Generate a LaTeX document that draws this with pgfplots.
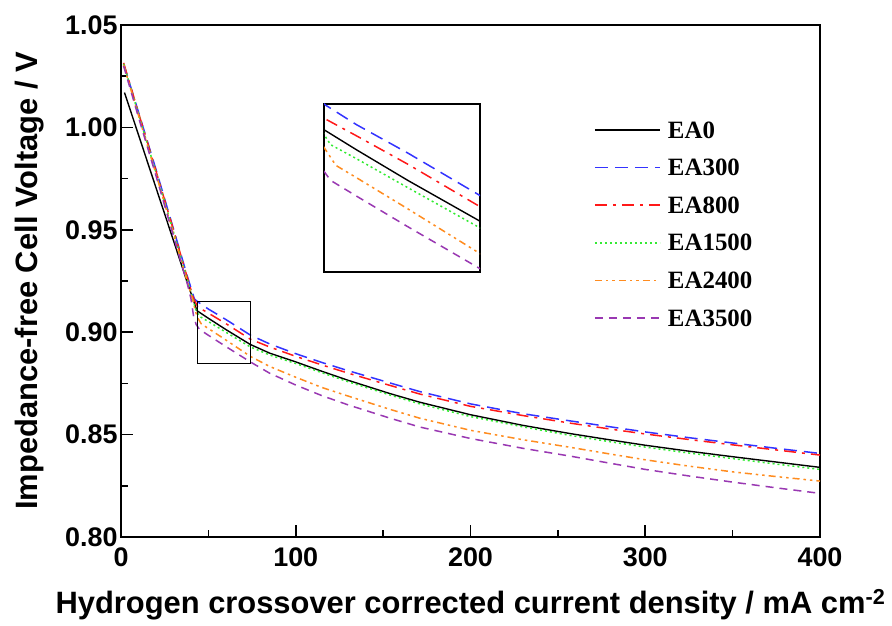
\documentclass[border=0pt]{standalone}
\usepackage{fontspec}
\setmainfont{Liberation Sans}
\newfontfamily\legfont{Liberation Serif}
\usepackage{pgfplots}
\usepackage{pgfplotstable}
\pgfplotsset{compat=1.18}

\definecolor{eaBlue}{rgb}{0.2,0.2,1}
\definecolor{eaRed}{rgb}{1,0.1,0.1}
\definecolor{eaGreen}{rgb}{0.2,0.92,0.2}
\definecolor{eaOrange}{rgb}{1,0.55,0.12}
\definecolor{eaPurple}{rgb}{0.6,0.22,0.7}

\pgfplotstableread{
x y
2 1.0170
10 0.9964
20 0.9706
30 0.9448
38 0.9241
43.5 0.9105
50 0.9068
60 0.9013
74 0.8940
85 0.8898
100 0.8855
115 0.8809
130 0.8765
154 0.8700
171 0.8658
200 0.8597
230 0.8545
257 0.8505
280 0.8474
300 0.8448
325 0.8419
350 0.8392
375 0.8366
400 0.8340
}\tEAzero

\pgfplotstableread{
x y
1.5 1.0310
10 1.0075
20 0.9795
30 0.9505
38 0.9272
42 0.9162
44 0.9148
50 0.9113
60 0.9062
74 0.8986
85 0.8943
100 0.8895
115 0.8852
130 0.8812
154 0.8752
171 0.8710
200 0.8650
230 0.8602
257 0.8567
280 0.8538
300 0.8513
325 0.8485
350 0.8459
375 0.8433
400 0.8408
}\tEAthree

\pgfplotstableread{
x y
1.5 1.0315
10 1.0072
20 0.9788
30 0.9500
38 0.9265
41.5 0.9165
44 0.9123
50 0.9093
60 0.9042
74 0.8966
85 0.8928
100 0.8882
115 0.8840
130 0.8800
154 0.8740
171 0.8698
200 0.8638
230 0.8593
257 0.8556
280 0.8527
300 0.8503
325 0.8476
350 0.8450
375 0.8425
400 0.8400
}\tEAeight

\pgfplotstableread{
x y
1.5 1.0310
10 1.0065
20 0.9780
30 0.9490
38 0.9255
41 0.9165
43 0.9105
45 0.9077
50 0.9052
60 0.9000
74 0.8928
85 0.8889
100 0.8847
115 0.8802
130 0.8758
154 0.8693
171 0.8650
200 0.8588
230 0.8538
257 0.8496
280 0.8465
300 0.8439
325 0.8410
350 0.8383
375 0.8356
400 0.8330
}\tEAfifteen

\pgfplotstableread{
x y
1.5 1.0305
10 1.0058
20 0.9773
30 0.9480
38 0.9245
40.5 0.9175
42 0.9125
43.5 0.9075
46 0.9040
50 0.9018
60 0.8962
74 0.8882
85 0.8833
100 0.8780
115 0.8730
130 0.8688
154 0.8623
171 0.8580
200 0.8521
230 0.8475
257 0.8438
280 0.8405
300 0.8377
325 0.8346
350 0.8318
375 0.8295
400 0.8273
}\tEAtwentyfour

\pgfplotstableread{
x y
1.5 1.0300
10 1.0050
20 0.9765
30 0.9470
38 0.9235
40 0.9165
41.5 0.9080
43 0.9038
45 0.9013
50 0.8985
60 0.8930
74 0.8855
85 0.8800
100 0.8742
115 0.8690
130 0.8645
154 0.8580
171 0.8537
200 0.8481
230 0.8433
257 0.8395
280 0.8360
300 0.8330
325 0.8298
350 0.8268
375 0.8240
400 0.8213
}\tEAthirtyfive

\tikzset{
  sEAzero/.style={draw=black, line width=1.4bp, solid},
  sEAthree/.style={draw=eaBlue, line width=1.5bp, dash pattern=on 13bp off 7bp},
  sEAeight/.style={draw=eaRed, line width=1.5bp, dash pattern=on 12bp off 6bp on 3bp off 6bp},
  sEAfifteen/.style={draw=eaGreen, line width=1.5bp, dash pattern=on 2bp off 3bp},
  sEAtwentyfour/.style={draw=eaOrange, line width=1.5bp, dash pattern=on 7bp off 4bp on 2.5bp off 4bp on 2.5bp off 4bp},
  sEAthirtyfive/.style={draw=eaPurple, line width=1.5bp, dash pattern=on 8bp off 6bp},
  legtext/.style={anchor=west, inner sep=0pt, outer sep=0pt, text=black, font=\legfont\fontsize{25}{28}\selectfont\bfseries},
}

\begin{document}
\begin{tikzpicture}
\path[use as bounding box] (0,0) rectangle (892bp,626bp);
\begin{axis}[
  at={(121bp,89bp)}, anchor=south west,
  scale only axis, width=699bp, height=512bp,
  xmin=0, xmax=400, ymin=0.80, ymax=1.05,
  xtick={0,100,200,300,400},
  ytick={0.80,0.85,0.90,0.95,1.00,1.05},
  minor x tick num=1, minor y tick num=1,
  tick align=inside, xtick pos=left, ytick pos=left,
  major tick length=12bp, minor tick length=7bp,
  every tick/.append style={black, line width=1.6bp},
  axis line style={line width=2.2bp},
  /pgf/number format/assume math mode=true,
  yticklabel style={/pgf/number format/fixed, /pgf/number format/fixed zerofill, /pgf/number format/precision=2},
  tick label style={font=\fontsize{27}{30}\selectfont\bfseries},
  xticklabel shift=7bp,
  label style={font=\fontsize{31}{34}\selectfont\bfseries},
  xlabel={Hydrogen crossover corrected current density / mA cm\textsuperscript{-2}},
  ylabel={Impedance-free Cell Voltage / V},
  xlabel style={at={(axis description cs:0.5,-0.150)}, anchor=base},
  ylabel style={at={(axis description cs:-0.120,0.5)}, anchor=base},
]
\addplot[sEAzero] table {\tEAzero};
\addplot[sEAthree] table {\tEAthree};
\addplot[sEAeight] table {\tEAeight};
\addplot[sEAfifteen] table {\tEAfifteen};
\addplot[sEAtwentyfour] table {\tEAtwentyfour};
\addplot[sEAthirtyfive] table {\tEAthirtyfive};
\draw[line width=1.2bp] (axis cs:43.7,0.8849) rectangle (axis cs:74,0.915);
% legend
\draw[sEAzero] (axis description cs:0.678,0.7949) -- (axis description cs:0.771,0.7949);
\node[legtext] at (axis description cs:0.7825,0.7949) {EA0};
\draw[sEAthree] (axis description cs:0.678,0.7215) -- (axis description cs:0.771,0.7215);
\node[legtext] at (axis description cs:0.7825,0.7215) {EA300};
\draw[sEAeight] (axis description cs:0.678,0.6480) -- (axis description cs:0.771,0.6480);
\node[legtext] at (axis description cs:0.7825,0.6480) {EA800};
\draw[sEAfifteen] (axis description cs:0.678,0.5746) -- (axis description cs:0.771,0.5746);
\node[legtext] at (axis description cs:0.7825,0.5746) {EA1500};
\draw[sEAtwentyfour] (axis description cs:0.678,0.5011) -- (axis description cs:0.771,0.5011);
\node[legtext] at (axis description cs:0.7825,0.5011) {EA2400};
\draw[sEAthirtyfive] (axis description cs:0.678,0.4277) -- (axis description cs:0.771,0.4277);
\node[legtext] at (axis description cs:0.7825,0.4277) {EA3500};
\end{axis}
\begin{axis}[
  at={(324bp,354bp)}, anchor=south west,
  scale only axis, width=156bp, height=168bp,
  xmin=43.7, xmax=74, ymin=0.8849, ymax=0.915,
  xtick=\empty, ytick=\empty,
  axis line style={line width=1.3bp},
  axis background/.style={fill=white},
]
\addplot[sEAzero] table {\tEAzero};
\addplot[sEAthree] table {\tEAthree};
\addplot[sEAeight] table {\tEAeight};
\addplot[sEAfifteen] table {\tEAfifteen};
\addplot[sEAtwentyfour] table {\tEAtwentyfour};
\addplot[sEAthirtyfive] table {\tEAthirtyfive};
\end{axis}
\end{tikzpicture}
\end{document}
